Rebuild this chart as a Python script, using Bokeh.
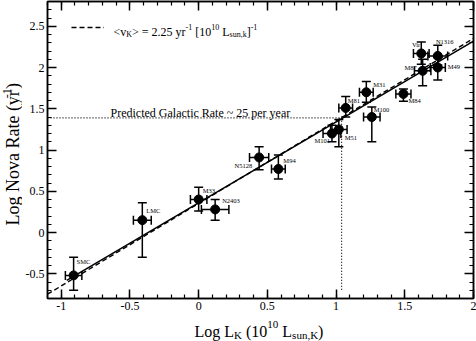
import math
from bokeh.plotting import figure
from bokeh.layouts import column, row
from bokeh.models import (ColumnDataSource, Whisker, TeeHead, Label, LinearAxis,
                          SingleIntervalTicker, CustomJSTickFormatter, Range1d,
                          Legend, LegendItem)
from bokeh.embed import file_html
from bokeh.resources import INLINE
from bokeh.core.properties import value

# ---------------- data ----------------
GALAXY = ["SMC", "LMC", "M33", "N2403", "N5128", "M94", "M101", "M51",
          "M81", "M31", "M100", "M84", "Vir", "M87", "N1316", "M49"]
LOG_LK = [-0.91, -0.41, 0.00, 0.12, 0.44, 0.58, 0.97, 1.02,
          1.07, 1.22, 1.26, 1.49, 1.62, 1.63, 1.74, 1.74]
LOG_LK_ERR = [0.06, 0.065, 0.06, 0.10, 0.07, 0.05, 0.065, 0.06,
              0.05, 0.05, 0.06, 0.055, 0.057, 0.06, 0.072, 0.055]
LOG_RATE = [-0.52, 0.15, 0.40, 0.28, 0.91, 0.77, 1.20, 1.25,
            1.51, 1.70, 1.40, 1.68, 2.17, 1.96, 2.14, 2.00]
LOG_RATE_LO = [-0.70, -0.30, 0.26, 0.15, 0.76, 0.65, 1.10, 1.04,
               1.40, 1.58, 1.10, 1.59, 2.04, 1.78, 2.03, 1.85]
LOG_RATE_HI = [-0.30, 0.36, 0.55, 0.40, 1.04, 0.94, 1.30, 1.37,
               1.65, 1.83, 1.52, 1.74, 2.31, 2.10, 2.27, 2.12]

FIT_SLOPE = 0.98
FIT_INTERCEPT = 0.36
FIT_X = [-0.96, 2.0]
MEAN_NU_K = 2.25                 # yr^-1 per 10^10 L_sun,K
GAL_LOG_LK = 1.04
GAL_LOG_RATE = 1.39
GAL_DROP_TO = -0.70

X_RANGE = (-1.1, 2.0)
Y_RANGE = (-0.8, 2.8)
TICK_INTERVAL = 0.5

# ---------------- layout / style ----------------
FONT = "Liberation Serif"
FW, FH = 426, 297
B_LEFT, B_RIGHT, B_TOP, B_BOTTOM = 25, 3, 1, 18
YLAB_W = 22
MAIN_H = B_TOP + FH + B_BOTTOM
XLAB_H = 25
TOTAL_W = YLAB_W + B_LEFT + FW + B_RIGHT
SX = FW / (X_RANGE[1] - X_RANGE[0])
SY = FH / (Y_RANGE[1] - Y_RANGE[0])

# label offsets in px relative to point: (dx, dy_down, align)
LABEL_OFFSETS = {
    "SMC": (3, -14, "left"), "LMC": (4, -10, "left"), "M33": (4, -9, "left"),
    "N2403": (7, -9, "left"), "N5128": (-7, 8, "right"), "M94": (5, -8, "left"),
    "M101": (-2, 7, "right"), "M51": (6, 8, "left"), "M81": (2, -7, "left"),
    "M31": (7, -8, "left"), "M100": (2, -8, "left"), "M84": (5, 7, "left"),
    "Vir": (-5, -9, "center"), "M87": (-6, -3, "right"), "N1316": (7, -14, "center"),
    "M49": (10, -1, "left"),
}

TW = {' ': 250, '(': 333, ')': 333, '[': 333, ']': 333, '<': 564, '>': 564,
      '=': 564, '~': 541, '-': 333, ',': 250, '.': 250,
      'A': 722, 'C': 667, 'D': 722, 'G': 722, 'K': 722, 'L': 611, 'M': 889,
      'N': 722, 'P': 556, 'R': 667, 'S': 556, 'V': 722,
      'a': 444, 'c': 444, 'd': 500, 'e': 444, 'g': 500, 'i': 278, 'k': 500,
      'l': 278, 'n': 500, 'o': 500, 'p': 500, 'r': 333, 's': 389, 't': 278,
      'u': 500, 'v': 500, 'y': 500}


def tw(s, size):
    return sum(TW.get(c, 500) for c in s) * size / 1000.0


def rich(fig, runs, x0, y0, ux, uy, angle=0.0):
    """Lay out runs (text, size, rise_px); ux/uy: data units per screen px."""
    cum = 0.0
    for text, size, rise in runs:
        lead = len(text) - len(text.lstrip(" "))
        cum += tw(" " * lead, size)
        t = text.lstrip(" ")
        if angle == 0:
            x, y = x0 + cum * ux, y0 + rise * uy
        else:
            x, y = x0 - rise * ux, y0 + cum * uy
        fig.add_layout(Label(x=x, y=y, text=t, angle=angle,
                             text_font=FONT, text_font_size=f"{size}px",
                             text_baseline="alphabetic", text_align="left",
                             text_color="black"))
        cum += tw(t, size)
    return cum


def blank_fig(w, h):
    f = figure(width=w, height=h, output_backend="svg", toolbar_location=None,
               x_range=Range1d(0, w), y_range=Range1d(h, 0), title=None,
               x_axis_type=None, y_axis_type=None,
               min_border_left=0, min_border_right=0,
               min_border_top=0, min_border_bottom=0)
    f.outline_line_color = None
    f.xgrid.visible = False
    f.ygrid.visible = False
    return f


# ---------------- main plot ----------------
p = figure(frame_width=FW, frame_height=FH, output_backend="svg",
           toolbar_location=None, x_range=Range1d(*X_RANGE),
           y_range=Range1d(*Y_RANGE), min_border_left=B_LEFT,
           min_border_right=B_RIGHT, min_border_top=B_TOP,
           min_border_bottom=B_BOTTOM)
p.xgrid.visible = False
p.ygrid.visible = False
p.outline_line_color = "black"
p.outline_line_width = 1.5

fmt = CustomJSTickFormatter(code="return String(Math.round(tick*10)/10);")


def style_axis(ax, labels=True):
    ax.ticker = SingleIntervalTicker(interval=TICK_INTERVAL, num_minor_ticks=5)
    ax.formatter = fmt
    ax.major_tick_in = 9
    ax.major_tick_out = 0
    ax.minor_tick_in = 4
    ax.minor_tick_out = 0
    ax.axis_line_color = "black"
    ax.axis_line_width = 1.5
    ax.major_tick_line_color = "black"
    ax.major_tick_line_width = 1.5
    ax.minor_tick_line_color = "black"
    ax.minor_tick_line_width = 1.2
    ax.major_label_text_font = FONT
    ax.major_label_text_font_size = "12px"
    ax.major_label_text_color = "black"
    ax.major_label_standoff = 3
    if not labels:
        ax.major_label_text_font_size = "0px"
        ax.major_label_text_alpha = 0
        ax.major_label_standoff = 0


style_axis(p.xaxis[0])
style_axis(p.yaxis[0])
top = LinearAxis()
right = LinearAxis()
style_axis(top, False)
style_axis(right, False)
p.add_layout(top, "above")
p.add_layout(right, "right")

# lines
fit_y = [FIT_INTERCEPT + FIT_SLOPE * x for x in FIT_X]
p.line(FIT_X, fit_y, line_color="black", line_width=1.6)

dash_x = list(X_RANGE)
dash_y = [math.log10(MEAN_NU_K) + x for x in dash_x]
dash_r = p.line(dash_x, dash_y, line_color="black", line_width=1.4, line_dash="5 3")

p.line([X_RANGE[0], GAL_LOG_LK, GAL_LOG_LK],
       [GAL_LOG_RATE, GAL_LOG_RATE, GAL_DROP_TO],
       line_color="black", line_width=1.2, line_dash="1 2")

# points with error bars
src = ColumnDataSource(dict(
    x=LOG_LK, y=LOG_RATE,
    xlo=[a - b for a, b in zip(LOG_LK, LOG_LK_ERR)],
    xhi=[a + b for a, b in zip(LOG_LK, LOG_LK_ERR)],
    ylo=LOG_RATE_LO, yhi=LOG_RATE_HI))


def tee():
    return TeeHead(size=9, line_width=1.5, line_color="black")


p.add_layout(Whisker(source=src, base="x", lower="ylo", upper="yhi",
                     dimension="height", line_width=1.5, line_color="black",
                     lower_head=tee(), upper_head=tee()))
p.add_layout(Whisker(source=src, base="y", lower="xlo", upper="xhi",
                     dimension="width", line_width=1.5, line_color="black",
                     lower_head=tee(), upper_head=tee()))
p.scatter("x", "y", source=src, size=9, color="black")

# galaxy name labels
LBL_SIZE = 6.5
lx, ly = [], []
for name, x, y in zip(GALAXY, LOG_LK, LOG_RATE):
    dx, dy, al = LABEL_OFFSETS[name]
    w = tw(name, LBL_SIZE)
    if al == "right":
        dx -= w
    elif al == "center":
        dx -= w / 2
    lx.append(x + dx / SX)
    ly.append(y - dy / SY)
p.text(x=lx, y=ly, text=GALAXY, text_font=value(FONT),
       text_font_size=f"{LBL_SIZE}px", text_baseline="middle",
       text_align="left", text_color="black")

# legend sample (dashed line) + rich-text label
legend = Legend(items=[LegendItem(label=value(" "), renderers=[dash_r])],
                location=(24, FH - 32), glyph_width=33, glyph_height=12,
                label_height=12, label_width=0, label_standoff=0, padding=0,
                margin=0, spacing=0, border_line_alpha=0,
                background_fill_alpha=0, label_text_font_size="1px")
p.add_layout(legend, "center")

rich(p, [("<v", 12, 0), ("K", 8, -3), ("> = 2.25 yr", 12, 0), ("-1", 8, 5),
         (" [10", 12, 0), ("10", 8, 5), (" L", 12, 0), ("sun,k", 8, -3),
         ("]", 12, 0), ("-1", 8, 5)],
     X_RANGE[0] + 66 / SX, Y_RANGE[1] - 30 / SY, 1 / SX, 1 / SY)

rich(p, [("Predicted Galactic Rate ~ 25 per year", 12, 0)],
     X_RANGE[0] + 63 / SX, GAL_LOG_RATE + 5 / SY, 1 / SX, 1 / SY)

# ---------------- axis titles (side figures) ----------------
ylab = blank_fig(YLAB_W, MAIN_H)
ylab_runs = [("Log Nova Rate (yr", 18, 0), ("-1", 12, 6), (")", 18, 0)]
ylen = sum(tw(t, s) for t, s, _ in ylab_runs)
y_center_px = B_TOP + (Y_RANGE[1] - 0.84) * SY
rich(ylab, ylab_runs, 12.5, y_center_px + ylen / 2, 1, -1, angle=math.pi / 2)

xlab = blank_fig(TOTAL_W, XLAB_H)
rich(xlab, [("Log L", 16, 0), ("K", 11, -3.5), (" (10", 16, 0), ("10", 11, 7),
            (" L", 16, 0), ("sun,K", 11, -3.5), (")", 16, 0)],
     YLAB_W + B_LEFT + 147, 15, 1, -1)

layout = column(row(ylab, p, spacing=0), xlab, spacing=0)
open("out.html", "w").write(file_html(layout, INLINE))
